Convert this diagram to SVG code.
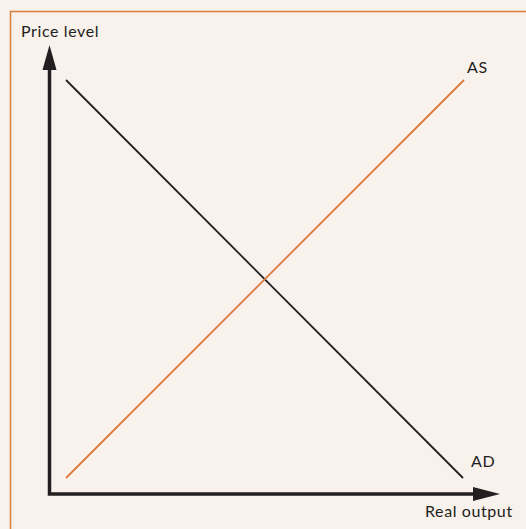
<svg xmlns="http://www.w3.org/2000/svg" width="526" height="529" viewBox="0 0 526 529">
<style>
.lbl{font-family:"Lato","Open Sans",sans-serif;font-size:16px;letter-spacing:0.6px;fill:#231f20}
.axis{stroke:#231f20;stroke-width:3.5;fill:none}
.head{fill:#231f20}
</style>
<rect x="0" y="0" width="526" height="529" fill="#f9f1ec"/>
<rect x="10.5" y="11.5" width="530" height="530" fill="#f9f1ec" stroke="#d9803f" stroke-width="1.5"/>
<g id="axes">
<path class="axis" d="M49.5 60 V494 H478"/>
<polygon class="head" points="49.5,45 42.5,70 56.5,70"/>
<polygon class="head" points="500,494 473,487 473,501"/>
</g>
<g id="connectors">
<line id="AD-line" x1="66" y1="80" x2="463" y2="478" stroke="#231f20" stroke-width="1.8"/>
<line id="AS-line" x1="66" y1="478" x2="464" y2="80" stroke="#dc7a3c" stroke-width="1.8"/>
</g>
<g id="labels">
<text class="lbl" x="21" y="37">Price level</text>
<text class="lbl" x="467" y="73">AS</text>
<text class="lbl" x="471" y="467">AD</text>
<text class="lbl" x="425" y="517">Real output</text>
</g>
</svg>
